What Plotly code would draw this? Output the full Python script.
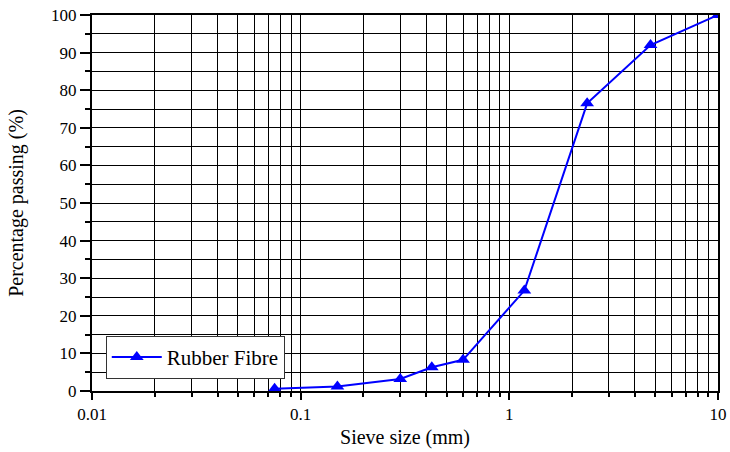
import plotly.graph_objects as go

# Sieve analysis of rubber fibre
sieve_mm = [0.075, 0.15, 0.3, 0.425, 0.6, 1.18, 2.36, 4.75, 10]
passing_pct = [0.6, 1.2, 3.2, 6.3, 8.3, 26.7, 76.5, 92.0, 100.0]

x_tick_vals = [0.01, 0.1, 1, 10]
x_tick_text = ["0.01", "0.1", "1", "10"]
y_tick_vals = list(range(0, 101, 10))

serif = "Liberation Serif"

fig = go.Figure()
fig.add_trace(go.Scatter(
    x=sieve_mm, y=passing_pct,
    mode="lines+markers",
    name="Rubber Fibre",
    line=dict(color="#0000FF", width=2),
    marker=dict(symbol="triangle-up", size=12, color="#0000FF"),
    cliponaxis=True,
))

fig.update_layout(
    width=730, height=452,
    margin=dict(l=92, r=12, t=15, b=61),
    paper_bgcolor="white", plot_bgcolor="white",
    font=dict(family=serif, color="black", size=17),
    showlegend=True,
    legend=dict(
        x=0.022, y=0.147, xanchor="left", yanchor="top",
        bgcolor="white", bordercolor="#333333", borderwidth=1,
        font=dict(family=serif, size=21, color="black"),
        itemwidth=50, tracegroupgap=0,
    ),
)

fig.update_xaxes(
    type="log", range=[-2, 1], automargin=False,
    tickvals=x_tick_vals, ticktext=x_tick_text,
    ticks="outside", ticklen=7, tickwidth=2, tickcolor="black",
    showline=True, linecolor="black", linewidth=2, mirror=True,
    showgrid=True, gridcolor="black", gridwidth=1,
    minor=dict(ticks="outside", ticklen=4, tickcolor="black",
               showgrid=True, gridcolor="black", gridwidth=1,
               dtick="D1"),
    zeroline=False,
    tickfont=dict(family=serif, size=17, color="black"),
    title=dict(text="Sieve size (mm)", font=dict(family=serif, size=20, color="black"), standoff=7),
)

fig.update_yaxes(
    range=[0, 100], automargin=False,
    tickvals=y_tick_vals,
    ticks="outside", ticklen=10, tickwidth=2, tickcolor="black",
    showline=True, linecolor="black", linewidth=2, mirror=True,
    showgrid=True, gridcolor="black", gridwidth=1,
    minor=dict(ticks="outside", ticklen=5, tickcolor="black", dtick=5,
               showgrid=True, gridcolor="black", gridwidth=1),
    zeroline=False,
    tickfont=dict(family=serif, size=17, color="black"),
    title=dict(text="Percentage passing (%)", font=dict(family=serif, size=20, color="black"), standoff=22),
)

fig.write_html("out.html")
